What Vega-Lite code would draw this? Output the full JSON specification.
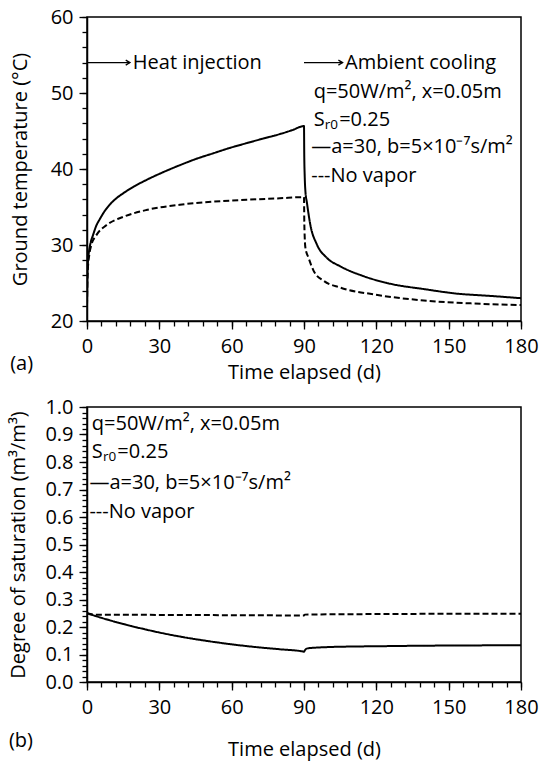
{
  "$schema": "https://vega.github.io/schema/vega-lite/v6.json",
  "background": "white",
  "padding": {"left": 8, "top": 6, "right": 4, "bottom": 4},
  "config": {
    "font": "Open Sans",
    "view": {"stroke": "black", "strokeWidth": 1.5},
    "axis": {"domainColor": "black", "domainWidth": 1.5, "tickColor": "black", "tickWidth": 1.3, "labelColor": "black", "titleColor": "black", "labelFontSize": 20, "titleFontSize": 20, "titleFontWeight": "normal", "grid": false, "labelFont": "Open Sans", "titleFont": "Open Sans", "labelOverlap": false, "labelFlush": false},
    "concat": {"spacing": 13},
    "text": {"font": "Open Sans", "fontSize": 20, "color": "black"}
  },
  "datasets": {
    "temp": [
      {"t": 0, "v": 22.0, "s": "a"}, {"t": 0.15, "v": 25.5, "s": "a"}, {"t": 0.4, "v": 27.8, "s": "a"}, {"t": 0.8, "v": 29.1, "s": "a"}, {"t": 1.5, "v": 30.3, "s": "a"}, {"t": 2.5, "v": 31.3, "s": "a"}, {"t": 3.8, "v": 32.5, "s": "a"}, {"t": 5.3, "v": 33.4, "s": "a"}, {"t": 7.2, "v": 34.4, "s": "a"}, {"t": 9.4, "v": 35.3, "s": "a"}, {"t": 12, "v": 36.1, "s": "a"}, {"t": 15, "v": 36.8, "s": "a"}, {"t": 19.5, "v": 37.7, "s": "a"}, {"t": 24.6, "v": 38.55, "s": "a"}, {"t": 31, "v": 39.5, "s": "a"}, {"t": 38.5, "v": 40.5, "s": "a"}, {"t": 45, "v": 41.3, "s": "a"}, {"t": 52.3, "v": 42.06, "s": "a"}, {"t": 59, "v": 42.75, "s": "a"}, {"t": 66.2, "v": 43.4, "s": "a"}, {"t": 73, "v": 44.0, "s": "a"}, {"t": 80, "v": 44.6, "s": "a"}, {"t": 85, "v": 45.1, "s": "a"}, {"t": 90, "v": 45.65, "s": "a"},
      {"t": 90.1, "v": 42.0, "s": "a"}, {"t": 90.3, "v": 39.0, "s": "a"}, {"t": 90.6, "v": 37.0, "s": "a"}, {"t": 91.2, "v": 35.6, "s": "a"}, {"t": 92.6, "v": 32.7, "s": "a"}, {"t": 95.3, "v": 30.1, "s": "a"}, {"t": 99.5, "v": 28.3, "s": "a"}, {"t": 105, "v": 27.2, "s": "a"}, {"t": 114.7, "v": 25.9, "s": "a"}, {"t": 125.8, "v": 24.9, "s": "a"}, {"t": 139.7, "v": 24.2, "s": "a"}, {"t": 153.5, "v": 23.6, "s": "a"}, {"t": 167.3, "v": 23.3, "s": "a"}, {"t": 180, "v": 23.0, "s": "a"},
      {"t": 0, "v": 22.0, "s": "nv"}, {"t": 0.15, "v": 25.0, "s": "nv"}, {"t": 0.4, "v": 27.0, "s": "nv"}, {"t": 0.9, "v": 28.6, "s": "nv"}, {"t": 1.8, "v": 30.0, "s": "nv"}, {"t": 3.9, "v": 31.3, "s": "nv"}, {"t": 8, "v": 32.6, "s": "nv"}, {"t": 15, "v": 33.7, "s": "nv"}, {"t": 24.6, "v": 34.6, "s": "nv"}, {"t": 38.5, "v": 35.3, "s": "nv"}, {"t": 52.3, "v": 35.7, "s": "nv"}, {"t": 66.2, "v": 35.95, "s": "nv"}, {"t": 80, "v": 36.15, "s": "nv"}, {"t": 90, "v": 36.3, "s": "nv"},
      {"t": 90.1, "v": 33.5, "s": "nv"}, {"t": 90.3, "v": 31.0, "s": "nv"}, {"t": 90.6, "v": 29.6, "s": "nv"}, {"t": 91.9, "v": 28.3, "s": "nv"}, {"t": 94, "v": 26.6, "s": "nv"}, {"t": 98.1, "v": 25.3, "s": "nv"}, {"t": 105, "v": 24.4, "s": "nv"}, {"t": 118.9, "v": 23.5, "s": "nv"}, {"t": 139.7, "v": 22.7, "s": "nv"}, {"t": 160.5, "v": 22.3, "s": "nv"}, {"t": 180, "v": 22.1, "s": "nv"}
    ],
    "sat": [
      {"t": 0, "v": 0.250, "s": "a"}, {"t": 5, "v": 0.236, "s": "a"}, {"t": 10, "v": 0.223, "s": "a"}, {"t": 15, "v": 0.211, "s": "a"}, {"t": 20, "v": 0.200, "s": "a"}, {"t": 30, "v": 0.180, "s": "a"}, {"t": 40, "v": 0.163, "s": "a"}, {"t": 50, "v": 0.149, "s": "a"}, {"t": 60, "v": 0.137, "s": "a"}, {"t": 70, "v": 0.127, "s": "a"}, {"t": 80, "v": 0.119, "s": "a"}, {"t": 89.5, "v": 0.111, "s": "a"}, {"t": 90, "v": 0.110, "s": "a"}, {"t": 90.3, "v": 0.114, "s": "a"}, {"t": 90.8, "v": 0.120, "s": "a"}, {"t": 92, "v": 0.123, "s": "a"}, {"t": 95, "v": 0.125, "s": "a"}, {"t": 100, "v": 0.127, "s": "a"}, {"t": 110, "v": 0.129, "s": "a"}, {"t": 120, "v": 0.130, "s": "a"}, {"t": 140, "v": 0.132, "s": "a"}, {"t": 160, "v": 0.133, "s": "a"}, {"t": 180, "v": 0.134, "s": "a"},
      {"t": 0, "v": 0.250, "s": "nv"}, {"t": 3, "v": 0.245, "s": "nv"}, {"t": 30, "v": 0.244, "s": "nv"}, {"t": 60, "v": 0.243, "s": "nv"}, {"t": 90, "v": 0.242, "s": "nv"}, {"t": 90.3, "v": 0.245, "s": "nv"}, {"t": 100, "v": 0.246, "s": "nv"}, {"t": 120, "v": 0.247, "s": "nv"}, {"t": 150, "v": 0.248, "s": "nv"}, {"t": 180, "v": 0.248, "s": "nv"}
    ],
    "arrows": [
      {"x": 0, "x2": 17.8, "y": 54},
      {"x": 90, "x2": 106, "y": 54}
    ],
    "notesTop": [
      {"x": 19, "y": 54, "label": "Heat injection"},
      {"x": 107, "y": 54, "label": "Ambient cooling"},
      {"x": 94, "y": 50.1, "label": "q=50W/m², x=0.05m"},
      {"x": 93, "y": 42.9, "label": "—a=30, b=5×10⁻⁷s/m²"},
      {"x": 93, "y": 39.1, "label": "---No vapor"}
    ],
    "srTop": [{"x": 94, "y": 46.5, "s": "S", "sub": "r0", "rest": "=0.25"}],
    "notesBottom": [
      {"x": 2, "y": 0.94, "label": "q=50W/m², x=0.05m"},
      {"x": 1, "y": 0.725, "label": "—a=30, b=5×10⁻⁷s/m²"},
      {"x": 1, "y": 0.62, "label": "---No vapor"}
    ],
    "srBottom": [{"x": 2, "y": 0.835, "s": "S", "sub": "r0", "rest": "=0.25"}]
  },
  "vconcat": [
    {
      "width": 434,
      "height": 304,
      "title": {"text": "(a)", "orient": "bottom", "anchor": "start", "fontSize": 20, "fontWeight": "normal", "font": "Open Sans", "offset": -28, "dx": 0},
      "resolve": {"axis": {"x": "independent", "y": "independent"}},
      "layer": [
        {
          "data": {"name": "temp"},
          "mark": {"type": "line", "color": "black", "strokeWidth": 2, "clip": true, "interpolate": "monotone"},
          "encoding": {
            "x": {"field": "t", "type": "quantitative", "scale": {"domain": [0, 180], "nice": false},
              "axis": {"title": "Time elapsed (d)", "orient": "bottom", "values": [0, 30, 60, 90, 120, 150, 180], "tickSize": 8, "labelPadding": 7, "titlePadding": 6}},
            "y": {"field": "v", "type": "quantitative", "scale": {"domain": [20, 60], "nice": false},
              "axis": {"title": "Ground temperature (°C)", "orient": "left", "values": [20, 30, 40, 50, 60], "tickSize": 8, "labelPadding": 6, "titlePadding": 20}},
            "strokeDash": {"field": "s", "type": "nominal", "scale": {"domain": ["a", "nv"], "range": [[1, 0], [6, 3]]}, "legend": null}
          }
        },
        {
          "mark": {"type": "rule", "color": "#333", "strokeWidth": 1, "strokeDash": [1, 1]},
          "encoding": {"x": {"datum": 90, "type": "quantitative", "axis": {"orient": "bottom", "values": [0,6,12,18,24,30,36,42,48,54,60,66,72,78,84,90,96,102,108,114,120,126,132,138,144,150,156,162,168,174,180], "labels": false, "domain": false, "title": null, "tickSize": 5}}}
        },
        {
          "data": {"name": "arrows"},
          "mark": {"type": "rule", "color": "black", "strokeWidth": 1.3},
          "encoding": {"x": {"field": "x", "type": "quantitative", "axis": null}, "x2": {"field": "x2"}, "y": {"field": "y", "type": "quantitative", "axis": {"orient": "left", "values": [20,22,24,26,28,30,32,34,36,38,40,42,44,46,48,50,52,54,56,58,60], "labels": false, "domain": false, "title": null, "tickSize": 5}}}
        },
        {
          "data": {"name": "arrows"},
          "mark": {"type": "point", "shape": "M -1 -0.6 L 0 0 L -1 0.6", "filled": false, "stroke": "black", "strokeWidth": 1.3, "size": 70, "opacity": 1},
          "encoding": {"x": {"field": "x2", "type": "quantitative", "axis": null}, "y": {"field": "y", "type": "quantitative", "axis": null}}
        },
        {
          "data": {"name": "notesTop"},
          "mark": {"type": "text", "align": "left", "baseline": "middle"},
          "encoding": {"x": {"field": "x", "type": "quantitative", "axis": null}, "y": {"field": "y", "type": "quantitative", "axis": null}, "text": {"field": "label"}}
        },
        {
          "data": {"name": "srTop"},
          "mark": {"type": "text", "align": "left", "baseline": "middle"},
          "encoding": {"x": {"field": "x", "type": "quantitative", "axis": null}, "y": {"field": "y", "type": "quantitative", "axis": null}, "text": {"field": "s"}}
        },
        {
          "data": {"name": "srTop"},
          "mark": {"type": "text", "align": "left", "baseline": "middle", "fontSize": 13.5, "dx": 11.2, "dy": 5},
          "encoding": {"x": {"field": "x", "type": "quantitative", "axis": null}, "y": {"field": "y", "type": "quantitative", "axis": null}, "text": {"field": "sub"}}
        },
        {
          "data": {"name": "srTop"},
          "mark": {"type": "text", "align": "left", "baseline": "middle", "dx": 25.5},
          "encoding": {"x": {"field": "x", "type": "quantitative", "axis": null}, "y": {"field": "y", "type": "quantitative", "axis": null}, "text": {"field": "rest"}}
        }
      ]
    },
    {
      "width": 434,
      "height": 275,
      "title": {"text": "(b)", "orient": "bottom", "anchor": "start", "fontSize": 20, "fontWeight": "normal", "font": "Open Sans", "offset": -28, "dx": 0},
      "resolve": {"axis": {"x": "independent", "y": "independent"}},
      "layer": [
        {
          "data": {"name": "sat"},
          "mark": {"type": "line", "color": "black", "strokeWidth": 2, "clip": true, "interpolate": "monotone"},
          "encoding": {
            "x": {"field": "t", "type": "quantitative", "scale": {"domain": [0, 180], "nice": false},
              "axis": {"title": "Time elapsed (d)", "orient": "bottom", "values": [0, 30, 60, 90, 120, 150, 180], "tickSize": 8, "labelPadding": 7, "titlePadding": 22}},
            "y": {"field": "v", "type": "quantitative", "scale": {"domain": [0, 1], "nice": false},
              "axis": {"title": "Degree of saturation (m³/m³)", "orient": "left", "format": ".1f", "values": [0, 0.1, 0.2, 0.3, 0.4, 0.5, 0.6, 0.7, 0.8, 0.9, 1], "tickSize": 8, "labelPadding": 6, "titlePadding": 16}},
            "strokeDash": {"field": "s", "type": "nominal", "scale": {"domain": ["a", "nv"], "range": [[1, 0], [6, 3]]}, "legend": null}
          }
        },
        {
          "mark": {"type": "rule", "color": "#333", "strokeWidth": 1, "strokeDash": [1, 1]},
          "encoding": {"x": {"datum": 90, "type": "quantitative", "axis": {"orient": "bottom", "values": [0,6,12,18,24,30,36,42,48,54,60,66,72,78,84,90,96,102,108,114,120,126,132,138,144,150,156,162,168,174,180], "labels": false, "domain": false, "title": null, "tickSize": 5}}}
        },
        {
          "data": {"name": "notesBottom"},
          "mark": {"type": "text", "align": "left", "baseline": "middle"},
          "encoding": {"x": {"field": "x", "type": "quantitative", "axis": null}, "y": {"field": "y", "type": "quantitative", "axis": {"orient": "left", "values": [0,0.02,0.04,0.06,0.08,0.1,0.12,0.14,0.16,0.18,0.2,0.22,0.24,0.26,0.28,0.3,0.32,0.34,0.36,0.38,0.4,0.42,0.44,0.46,0.48,0.5,0.52,0.54,0.56,0.58,0.6,0.62,0.64,0.66,0.68,0.7,0.72,0.74,0.76,0.78,0.8,0.82,0.84,0.86,0.88,0.9,0.92,0.94,0.96,0.98,1], "labels": false, "domain": false, "title": null, "tickSize": 5}}, "text": {"field": "label"}}
        },
        {
          "data": {"name": "srBottom"},
          "mark": {"type": "text", "align": "left", "baseline": "middle"},
          "encoding": {"x": {"field": "x", "type": "quantitative", "axis": null}, "y": {"field": "y", "type": "quantitative", "axis": null}, "text": {"field": "s"}}
        },
        {
          "data": {"name": "srBottom"},
          "mark": {"type": "text", "align": "left", "baseline": "middle", "fontSize": 13.5, "dx": 11.2, "dy": 5},
          "encoding": {"x": {"field": "x", "type": "quantitative", "axis": null}, "y": {"field": "y", "type": "quantitative", "axis": null}, "text": {"field": "sub"}}
        },
        {
          "data": {"name": "srBottom"},
          "mark": {"type": "text", "align": "left", "baseline": "middle", "dx": 25.5},
          "encoding": {"x": {"field": "x", "type": "quantitative", "axis": null}, "y": {"field": "y", "type": "quantitative", "axis": null}, "text": {"field": "rest"}}
        }
      ]
    }
  ]
}
